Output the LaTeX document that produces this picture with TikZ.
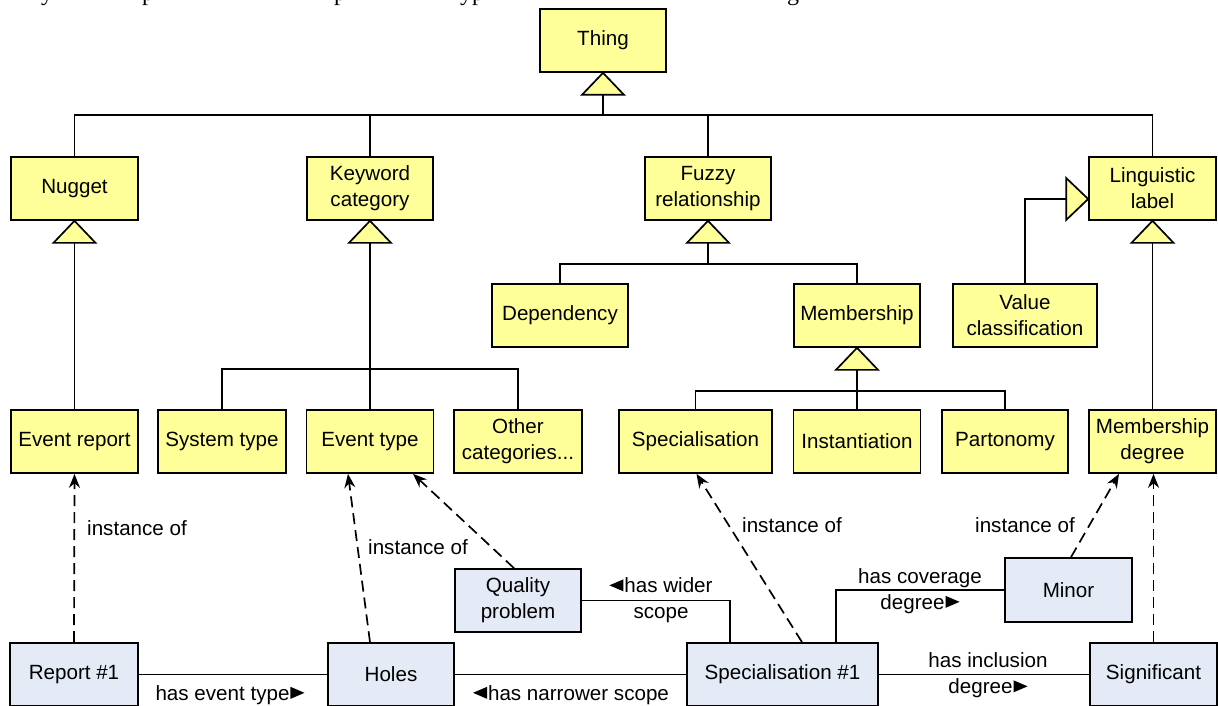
\documentclass[tikz,border=0pt]{standalone}
\usepackage{fontspec}
\setmainfont{Liberation Sans}
\newfontfamily\bodyserif{Liberation Serif}
\usetikzlibrary{calc,arrows.meta}
\definecolor{classfill}{RGB}{255,255,153}
\definecolor{instfill}{RGB}{228,235,247}
% direction pointers used in relation labels
\newcommand{\rpt}{\kern1pt\tikz[baseline=0pt,x=1pt,y=1pt]\fill (0,1.5) -- (0,13.5) -- (14,7.5) -- cycle;}
\newcommand{\lpt}{\tikz[baseline=0pt,x=1pt,y=1pt]\fill (14,1.5) -- (14,13.5) -- (0,7.5) -- cycle;\kern1pt}
\tikzset{
  box/.style={draw=black, line width=1.7pt, minimum height=63pt, inner sep=0pt,
    align=center, font=\fontsize{20.6pt}{26pt}\selectfont},
  cls/.style={box, fill=classfill},
  inst/.style={box, fill=instfill},
  link/.style={line width=1.7pt},
  inof/.style={line width=1.7pt, dash pattern=on 11pt off 6pt,
    -{Stealth[length=14pt,width=11pt]}},
  lbl/.style={font=\fontsize{20.6pt}{26pt}\selectfont, inner sep=0pt, align=center},
  frag/.style={font=\bodyserif\fontsize{24pt}{24pt}\selectfont, inner sep=0pt, anchor=base},
  genup/.pic={\draw[line width=1.7pt, fill=classfill] (0,0) -- (-21,22) -- (21,22) -- cycle;},
  genleft/.pic={\draw[line width=1.7pt, fill=classfill] (0,0) -- (-22,-21) -- (-22,21) -- cycle;},
}
\begin{document}
\begin{tikzpicture}[x=1pt,y=-1pt]
\useasboundingbox (0,0) rectangle (1218,706);

% descenders of the preceding text line
\begin{scope}
  \clip (0,0) rectangle (1218,30);
  \node[frag] (f1) at (47,0.5) {y};
  \node[frag] (f2) at (148,0.5) {p};
  \node[frag] (f3) at (340,0.5) {p};
  \node[frag] (f4) at (472,0.5) {yp};
  \node[frag] (f5) at (793,0.5) {g};
\end{scope}

% classes
\node[cls, minimum width=126pt] (thing) at (603,40.5) {Thing};
\node[cls, minimum width=127pt] (nugget) at (74.5,188.5) {Nugget};
\node[cls, minimum width=126pt] (kw) at (370,188.5) {Keyword\\category};
\node[cls, minimum width=126pt] (fuzzy) at (708,188.5) {Fuzzy\\relationship};
\node[cls, minimum width=127pt] (ling) at (1152.5,188.5) {Linguistic\\label};
\node[cls, minimum width=136pt] (dep) at (560,315.5) {Dependency};
\node[cls, minimum width=126pt] (memb) at (857,315.5) {Membership};
\node[cls, minimum width=144pt] (valcl) at (1025,315.5) {Value\\classification};

\node[cls, minimum width=127pt] (evrep) at (74.5,441.5) {Event report};
\node[cls, minimum width=128pt] (systype) at (222,441.5) {System type};
\node[cls, minimum width=127pt] (evtype) at (370,441.5) {Event type};
\node[cls, minimum width=128pt] (other) at (518,441.5) {Other\\categories...};
\node[cls, minimum width=153pt] (spec) at (695.5,441.5) {Specialisation};
\node[cls, minimum width=127pt] (inst) at (857,441.5) {Instantiation};
\node[cls, minimum width=126pt] (part) at (1005,441.5) {Partonomy};
\node[cls, minimum width=127pt] (memdeg) at (1152.5,441.5) {Membership\\degree};

% instances
\node[inst, minimum width=128pt] (rep1) at (74,674.5) {Report \#1};
\node[inst, minimum width=126pt] (holes) at (391,674.5) {Holes};
\node[inst, minimum width=191pt] (spec1) at (782.5,674.5) {Specialisation \#1};
\node[inst, minimum width=127pt] (sig) at (1153.5,674.5) {Significant};
\node[inst, minimum width=126pt] (qp) at (518,600.5) {Quality\\problem};
\node[inst, minimum width=127pt, minimum height=64pt] (minor) at (1068.5,590) {Minor};

% generalisation: Thing
\pic at (thing.south) {genup};
\draw[link] ($(thing.south)+(0,22)$) -- ($(thing.south)+(0,42)$) coordinate (tbus);
\draw[link] (nugget.north) -- (nugget.north |- tbus) -- (ling.north |- tbus) -- (ling.north);
\draw[link] (kw.north) -- (kw.north |- tbus);
\draw[link] (fuzzy.north) -- (fuzzy.north |- tbus);

% generalisation: Nugget
\pic at (nugget.south) {genup};
\draw[link] ($(nugget.south)+(0,22)$) -- (evrep.north);

% generalisation: Keyword category
\pic at (kw.south) {genup};
\draw[link] ($(kw.south)+(0,22)$) -- (evtype.north);
\coordinate (kbus) at (370,369);
\draw[link] (systype.north) -- (systype.north |- kbus) -- (other.north |- kbus) -- (other.north);

% generalisation: Fuzzy relationship
\pic at (fuzzy.south) {genup};
\draw[link] ($(fuzzy.south)+(0,22)$) -- ($(fuzzy.south)+(0,43)$) coordinate (fbus);
\draw[link] (dep.north) -- (dep.north |- fbus) -- (memb.north |- fbus) -- (memb.north);

% generalisation: Membership
\pic at (memb.south) {genup};
\draw[link] ($(memb.south)+(0,22)$) -- ($(memb.south)+(0,43)$) coordinate (mbus);
\draw[link] (spec.north) -- (spec.north |- mbus) -- (part.north |- mbus) -- (part.north);
\draw[link] (inst.north) -- (inst.north |- mbus);

% generalisation: Linguistic label
\pic at (ling.south) {genup};
\draw[link] ($(ling.south)+(0,22)$) -- (memdeg.north);
\coordinate (lingtip) at ($(ling.west)+(0,10.5)$);
\pic at (lingtip) {genleft};
\draw[link] (valcl.north) |- ($(lingtip)+(-22,0)$);

% instance-of arrows
\draw[inof] (rep1.north) -- (evrep.south);
\draw[inof] ($(holes.north)+(-21,0)$) -- ($(evtype.south)+(-22,0)$);
\draw[inof] ($(qp.north)+(-4,0)$) -- ($(evtype.south)+(43,0)$);
\draw[inof] ($(spec1.north)+(19.5,0)$) -- ($(spec.south)+(1,0)$);
\draw[inof] ($(minor.north)+(2.5,0)$) -- ($(memdeg.south)+(-33.5,0)$);
\draw[inof] (sig.north) -- (sig.north |- memdeg.south);

\node[lbl, anchor=west] (io1) at (87,528) {instance of};
\node[lbl, anchor=west] (io2) at (368,547) {instance of};
\node[lbl, anchor=west] (io3) at (742,525) {instance of};
\node[lbl, anchor=west] (io4) at (975,525) {instance of};

% relations between instances
\draw[link] (rep1.east) -- (holes.west);
\draw[link] (holes.east) -- (spec1.west);
\draw[link] (spec1.east) -- (sig.west);
\draw[link] (qp.east) -| ($(spec1.north)+(-52.5,0)$);
\draw[link] ($(spec1.north)+(53.5,0)$) |- (minor.west);

\node[lbl] (r1) at (230,695) {has event type\rpt};
\node[lbl] (r2) at (571,695) {\lpt has narrower scope};
\node[lbl] (r3) at (661,600.5) {\lpt has wider\\scope};
\node[lbl] (r4) at (920,591) {has coverage\\degree\rpt};
\node[lbl] (r5) at (988,675.5) {has inclusion\\degree\rpt};
\end{tikzpicture}
\end{document}
